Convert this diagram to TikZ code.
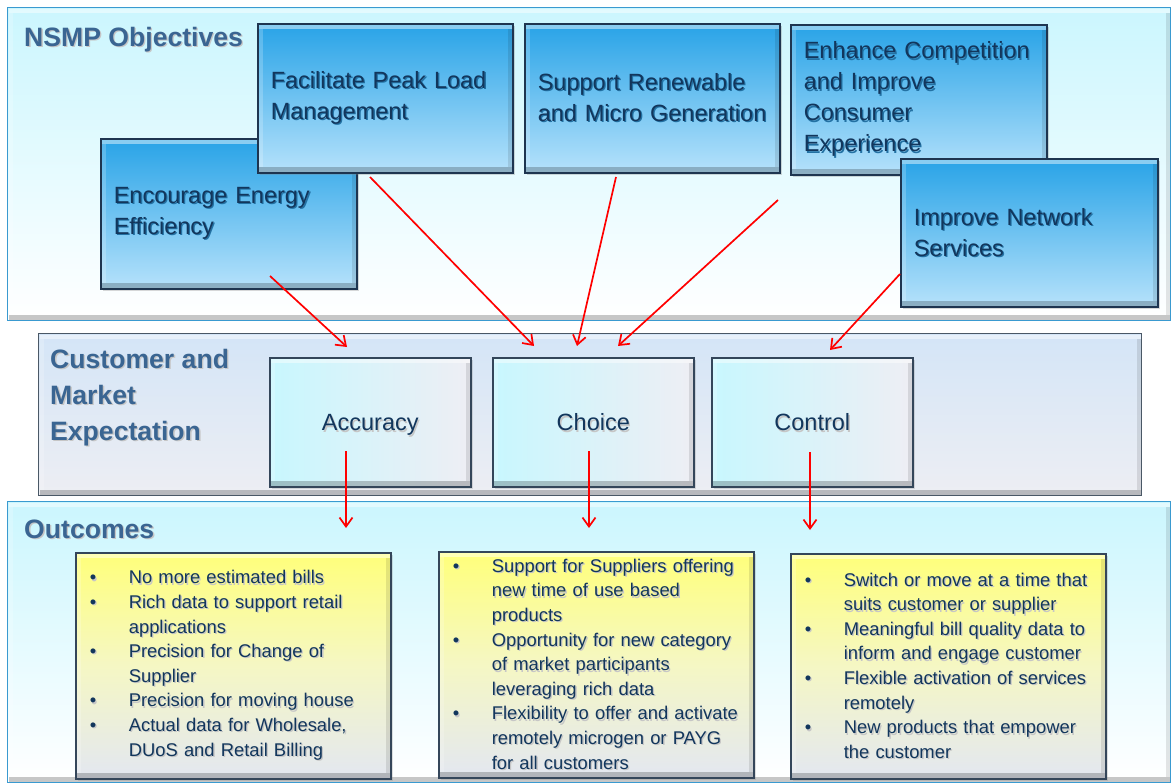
\documentclass[tikz,border=0pt]{standalone}
\usepackage{fontspec}
\setmainfont{Liberation Sans}
\usetikzlibrary{arrows.meta,shadows}

\definecolor{panelblue}{HTML}{3A9AD0}
\definecolor{panelcyan}{HTML}{CBF6FE}
\definecolor{objtop}{HTML}{28A3E7}
\definecolor{objbot}{HTML}{B6E2FB}
\definecolor{objedge}{HTML}{1E3550}
\definecolor{navy}{HTML}{12365C}
\definecolor{titleblue}{HTML}{3A6592}
\definecolor{cmtop}{HTML}{D4E5F7}
\definecolor{cmbot}{HTML}{EDEEF3}
\definecolor{cmedge}{HTML}{4A5866}
\definecolor{exleft}{HTML}{C8F7FE}
\definecolor{exright}{HTML}{EEEEF4}
\definecolor{outtop}{HTML}{FFFF7A}
\definecolor{outmid}{HTML}{F5F7C4}
\definecolor{outbot}{HTML}{E3E7F1}
\definecolor{boxedge}{HTML}{34465A}
\definecolor{arrowred}{HTML}{FF0000}
\colorlet{txtshadow}{gray!50}

% text with a soft offset shadow
\newcommand\shtxt[1]{\mbox{\rlap{\kern1.3pt\raisebox{-1.3pt}{\textcolor{txtshadow}{#1}}}#1}}
% bullet item and continuation line
\newcommand\itm[1]{\shtxt{\makebox[39pt][l]{\textbullet}#1}}
\newcommand\cnt[1]{\shtxt{\hspace*{39pt}#1}}

\begin{document}
\begin{tikzpicture}[x=1pt,y=-1pt,
  bevelfx/.style={path picture={
    \fill[white,opacity=.45] ([shift={(1pt,-1pt)}]path picture bounding box.north west)
        rectangle ([shift={(-1pt,-5pt)}]path picture bounding box.north east);
    \fill[white,opacity=.2] ([shift={(1pt,-5pt)}]path picture bounding box.north west)
        rectangle ([shift={(5pt,6pt)}]path picture bounding box.south west);
    \fill[black,opacity=.1] ([shift={(-5pt,-5pt)}]path picture bounding box.north east)
        rectangle ([shift={(-1pt,6pt)}]path picture bounding box.south east);
    \fill[black,opacity=.22] ([shift={(1pt,1pt)}]path picture bounding box.south west)
        rectangle ([shift={(-1pt,6pt)}]path picture bounding box.south east);
  }},
  panel/.style={anchor=north west, inner sep=0pt, line width=1.4pt, bevelfx},
  title/.style={inner sep=0pt, text=titleblue,
    font=\colorlet{txtshadow}{gray!45}\bfseries\fontsize{26.6}{36}\selectfont},
  objbox/.style={anchor=north west, draw=objedge, line width=1.6pt,
    top color=objtop, bottom color=objbot, bevelfx,
    drop shadow={shadow xshift=2pt, shadow yshift=-2pt, opacity=.3},
    inner xsep=13pt, inner ysep=0pt, align=left, text=navy,
    font=\colorlet{txtshadow}{objedge!45!objtop}\fontsize{23.5}{31}\selectfont},
  expbox/.style={anchor=north west, draw=boxedge, line width=1.6pt,
    left color=exleft, right color=exright, bevelfx,
    minimum width=201pt, minimum height=129pt, inner sep=0pt, text=navy,
    text height=17pt, text depth=0pt,
    drop shadow={shadow xshift=2pt, shadow yshift=-2pt, opacity=.25},
    font=\colorlet{txtshadow}{gray!45}\fontsize{23.5}{31}\selectfont},
  outbox/.style={anchor=north west, draw=boxedge, line width=1.6pt,
    top color=outtop, bottom color=outbot, middle color=outmid, bevelfx,
    drop shadow={shadow xshift=2pt, shadow yshift=-2pt, opacity=.25},
    inner xsep=14pt, inner ysep=0pt, align=left, text=navy,
    font=\colorlet{txtshadow}{gray!45}\fontsize{18.4}{24.6}\selectfont},
  arr/.style={draw=arrowred, line width=1.7pt,
    -{Straight Barb[length=9pt,width=13pt]}}
]
\useasboundingbox (0,0) rectangle (1172,784);
\fill[white] (0,0) rectangle (1172,784);

% ---- the three bands ----
\node[panel, draw=panelblue, top color=panelcyan, bottom color=white,
  minimum width=1163pt, minimum height=313pt] (nsmp) at (7,7) {};
\node[panel, draw=cmedge, top color=cmtop, bottom color=cmbot,
  minimum width=1103pt, minimum height=162pt] (cme) at (38,333) {};
\node[panel, draw=panelblue, top color=panelcyan, bottom color=white,
  minimum width=1163pt, minimum height=281pt] (outc) at (7,501) {};

% ---- band titles ----
\node[title, anchor=base west] (nsmpT) at (24,46.5) {\shtxt{NSMP Objectives}};
\node[title, anchor=base west, align=left] (cmeT) at (50,440)
  {\shtxt{Customer and}\\\shtxt{Market}\\\shtxt{Expectation}};
\node[title, anchor=base west] (outT) at (24,538.5) {\shtxt{Outcomes}};

% ---- objectives, later boxes overlapping earlier ones ----
\node[objbox, text width=230pt, minimum height=150pt] (eff) at (100,138)
  {\shtxt{Encourage Energy}\\\shtxt{Efficiency}};
\node[objbox, text width=229pt, minimum height=149pt] (peak) at (257,23)
  {\shtxt{Facilitate Peak Load}\\\shtxt{Management}};
\node[objbox, text width=229pt, minimum height=149pt] (ren) at (524,23)
  {\shtxt{Support Renewable}\\\shtxt{and Micro Generation}};
\node[objbox, text width=230pt, minimum height=150pt] (comp) at (790,24)
  {\shtxt{Enhance Competition}\\\shtxt{and Improve}\\\shtxt{Consumer}\\\shtxt{Experience}};
\node[objbox, text width=231pt, minimum height=148pt] (net) at (900,158)
  {\shtxt{Improve Network}\\\shtxt{Services}};

% ---- expectations ----
\node[expbox] (acc) at (269,357) {\shtxt{Accuracy}};
\node[expbox] (cho) at (492,357) {\shtxt{Choice}};
\node[expbox] (ctl) at (711,357) {\shtxt{Control}};

% ---- outcomes ----
\node[outbox, text width=287pt, minimum height=226pt] (o1) at (75,552)
  {\itm{No more estimated bills}\\
   \itm{Rich data to support retail}\\
   \cnt{applications}\\
   \itm{Precision for Change of}\\
   \cnt{Supplier}\\
   \itm{Precision for moving house}\\
   \itm{Actual data for Wholesale,}\\
   \cnt{DUoS and Retail Billing}};
\node[outbox, text width=287pt, minimum height=226pt] (o2) at (438,551)
  {\itm{Support for Suppliers offering}\\
   \cnt{new time of use based}\\
   \cnt{products}\\
   \itm{Opportunity for new category}\\
   \cnt{of market participants}\\
   \cnt{leveraging rich data}\\
   \itm{Flexibility to offer and activate}\\
   \cnt{remotely microgen or PAYG}\\
   \cnt{for all customers}};
\node[outbox, text width=287pt, minimum height=225pt] (o3) at (790,553)
  {\itm{Switch or move at a time that}\\
   \cnt{suits customer or supplier}\\
   \itm{Meaningful bill quality data to}\\
   \cnt{inform and engage customer}\\
   \itm{Flexible activation of services}\\
   \cnt{remotely}\\
   \itm{New products that empower}\\
   \cnt{the customer}};

% ---- connector ends ----
\coordinate (effOut)  at (270,276);
\coordinate (peakOut) at (370,177);
\coordinate (renOut)  at (616,177);
\coordinate (compOut) at (778,200);
\coordinate (netOut)  at (900,274);
\coordinate (accIn)   at (347,347);
\coordinate (choInA)  at (534,346);
\coordinate (choInB)  at (577,346);
\coordinate (choInC)  at (618,346);
\coordinate (ctlIn)   at (830,350);
\coordinate (accOut)  at (346,451);
\coordinate (choOut)  at (589,451);
\coordinate (ctlOut)  at (810,452);
\coordinate (o1In)    at (346,528);
\coordinate (o2In)    at (589,528);
\coordinate (o3In)    at (810,530);

% ---- connectors ----
\draw[arr] (effOut)  -- (accIn);
\draw[arr] (peakOut) -- (choInA);
\draw[arr] (renOut)  -- (choInB);
\draw[arr] (compOut) -- (choInC);
\draw[arr] (netOut)  -- (ctlIn);
\draw[arr] (accOut)  -- (o1In);
\draw[arr] (choOut)  -- (o2In);
\draw[arr] (ctlOut)  -- (o3In);
\end{tikzpicture}
\end{document}
